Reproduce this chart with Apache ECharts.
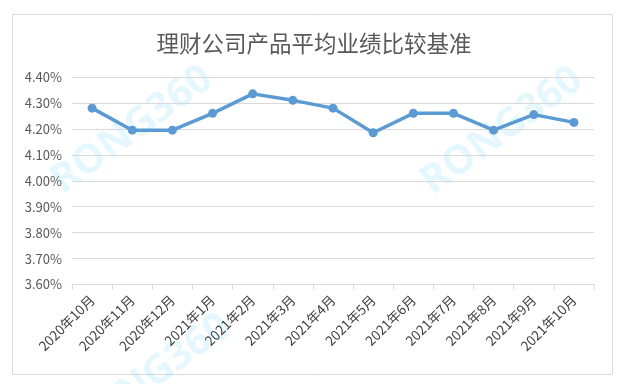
<!DOCTYPE html>
<html><head><meta charset="utf-8">
<script src="https://cdn.jsdelivr.net/npm/echarts@6/dist/echarts.min.js"></script>
<style>html,body{margin:0;padding:0;background:#fff}#c{width:628px;height:384px}</style>
</head><body><div id="c"></div>
<script>
var titleText = '理财公司产品平均业绩比较基准';
var categories = ['2020年10月','2020年11月','2020年12月','2021年1月','2021年2月','2021年3月','2021年4月','2021年5月','2021年6月','2021年7月','2021年8月','2021年9月','2021年10月'];
var benchmark = [4.28, 4.195, 4.195, 4.26, 4.335, 4.31, 4.28, 4.185, 4.26, 4.26, 4.195, 4.255, 4.225];
var yMin = 3.6, yMax = 4.4, yStep = 0.1;
var watermark = 'RONG360';

var chart = echarts.init(document.getElementById('c'), null, {renderer:'canvas'});
var font = '"Noto Sans CJK SC", "Noto Sans", sans-serif';
var wm = function(x, y){
  return {type:'text', x:x, y:y, rotation: Math.PI*0.2, z:-1,
    style:{text:watermark, fill:'rgba(120,215,250,0.2)', font:'bold 40px "Open Sans", sans-serif', textAlign:'center', textVerticalAlign:'middle'}};
};
chart.setOption({
  animation:false,
  textStyle:{fontFamily:font},
  title:{text:titleText, left:'center', top:27, textStyle:{fontSize:22.5, fontWeight:'normal', color:'#595959', fontFamily:font}},
  grid:{left:72, right:34, top:77, bottom:99.5},
  graphic:[
    {type:'rect', shape:{x:12.5, y:14.5, width:600, height:360}, style:{fill:'none', stroke:'#d9d9d9', lineWidth:1}, z:-2},
    wm(132, 130), wm(502, 131), wm(150, 378)
  ],
  xAxis:{type:'category', data:categories, boundaryGap:true,
    axisLine:{lineStyle:{color:'#d9d9d9'}},
    axisTick:{show:true, length:5, lineStyle:{color:'#d9d9d9'}},
    axisLabel:{rotate:45, color:'#404040', fontSize:13.5, margin:13, interval:0, fontFamily:font}},
  yAxis:{type:'value', min:yMin, max:yMax, interval:yStep,
    axisLine:{show:false}, axisTick:{show:false},
    splitLine:{lineStyle:{color:'#d9d9d9', width:1}},
    axisLabel:{color:'#595959', fontSize:13, margin:10, fontFamily:font, formatter:function(v){return v.toFixed(2)+'%';}}},
  series:[{type:'line', data:benchmark, symbol:'circle', symbolSize:9,
    lineStyle:{color:'#5b9bd5', width:3.5}, itemStyle:{color:'#5b9bd5'}}]
});
</script></body></html>
